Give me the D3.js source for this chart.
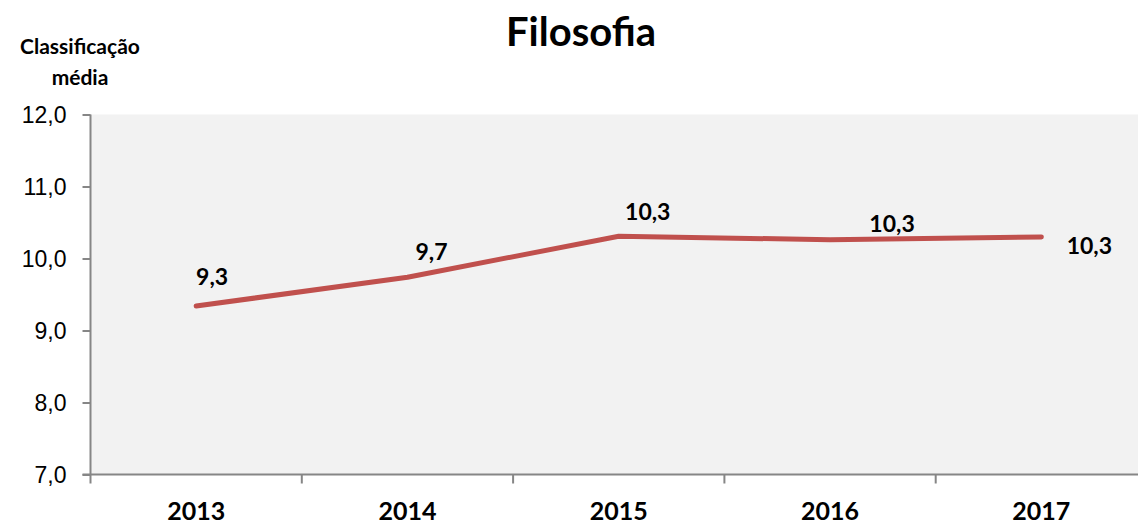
<!DOCTYPE html>
<html>
<head>
<meta charset="utf-8">
<script src="https://cdn.jsdelivr.net/npm/d3@7"></script>
<style>
  body { margin: 0; background: #fff; }
  svg { display: block; font-family: Lato, "Open Sans", sans-serif; }
</style>
</head>
<body>
<svg id="chart"></svg>
<script>
// chart data
const years = ["2013", "2014", "2015", "2016", "2017"];
const values = [9.34, 9.74, 10.31, 10.26, 10.30];
const valueLabels = ["9,3", "9,7", "10,3", "10,3", "10,3"];
const yTicks = [7, 8, 9, 10, 11, 12];

// label offsets (px) from each point, as placed in the original
const labelOffsets = [[16, -29], [24, -25], [29, -24], [62, -16], [48, 9]];

const config = {
  width: 1138,
  height: 525,
  margin: { top: 114.5, right: -9, bottom: 50.5, left: 90.5 }
};

const svg = d3.select("#chart")
  .attr("width", config.width)
  .attr("height", config.height);

const innerW = config.width - config.margin.left - config.margin.right;
const innerH = config.height - config.margin.top - config.margin.bottom;

const chart = svg.append("g")
  .attr("transform", `translate(${config.margin.left},${config.margin.top})`);

const xScale = d3.scaleBand().domain(years).range([0, innerW]);
const yScale = d3.scaleLinear().domain([7, 12]).range([innerH, 0]);

// plot background
chart.append("rect")
  .attr("width", innerW)
  .attr("height", innerH)
  .attr("fill", "#f2f2f2");

// y axis
const yAxis = d3.axisLeft(yScale)
  .tickValues(yTicks)
  .tickSize(8)
  .tickPadding(16)
  .tickFormat(d => d3.format(".1f")(d).replace(".", ","));

const yG = chart.append("g").call(yAxis);
yG.select(".domain").attr("stroke", "#868686").attr("stroke-width", 2).attr("d", `M0,0V${innerH}`);
yG.selectAll(".tick line").attr("stroke", "#868686").attr("stroke-width", 2);
yG.selectAll(".tick text")
  .attr("fill", "#000")
  .style("font-size", "23px")
  .attr("dy", "0.35em");

// x axis: ticks at category boundaries
const xG = chart.append("g").attr("transform", `translate(0,${innerH})`);
xG.append("line")
  .attr("x1", -8).attr("x2", innerW)
  .attr("stroke", "#868686").attr("stroke-width", 2);
xG.selectAll(".xtick")
  .data(years.concat(["end"]))
  .join("line")
  .attr("class", "xtick")
  .attr("x1", (d, i) => i * xScale.step())
  .attr("x2", (d, i) => i * xScale.step())
  .attr("y1", 0).attr("y2", 9)
  .attr("stroke", "#868686").attr("stroke-width", 2);
xG.selectAll(".xlabel")
  .data(years)
  .join("text")
  .attr("class", "xlabel")
  .attr("x", d => xScale(d) + xScale.bandwidth() / 2)
  .attr("y", 45)
  .attr("text-anchor", "middle")
  .attr("font-weight", "bold")
  .style("font-size", "25px")
  .text(d => d);

// line
const line = d3.line()
  .x((d, i) => xScale(years[i]) + xScale.bandwidth() / 2)
  .y(d => yScale(d));

chart.append("path")
  .datum(values)
  .attr("d", line)
  .attr("fill", "none")
  .attr("stroke", "#c0504d")
  .attr("stroke-width", 5)
  .attr("stroke-linecap", "round")
  .attr("stroke-linejoin", "round");

// data labels
chart.selectAll(".vlabel")
  .data(values)
  .join("text")
  .attr("class", "vlabel")
  .attr("x", (d, i) => xScale(years[i]) + xScale.bandwidth() / 2 + labelOffsets[i][0])
  .attr("y", (d, i) => yScale(d) + labelOffsets[i][1])
  .attr("dy", "0.35em")
  .attr("text-anchor", "middle")
  .attr("font-weight", "bold")
  .style("font-size", "23px")
  .text((d, i) => valueLabels[i]);

// title
svg.append("text")
  .attr("x", 581)
  .attr("y", 46)
  .attr("text-anchor", "middle")
  .attr("font-weight", "bold")
  .style("font-size", "40px")
  .text("Filosofia");

// y axis title
const yTitle = svg.append("text")
  .attr("text-anchor", "middle")
  .attr("font-weight", "bold")
  .style("font-size", "21px");
yTitle.append("tspan").attr("x", 80).attr("y", 54).text("Classificação");
yTitle.append("tspan").attr("x", 80).attr("y", 85).text("média");
</script>
</body>
</html>
